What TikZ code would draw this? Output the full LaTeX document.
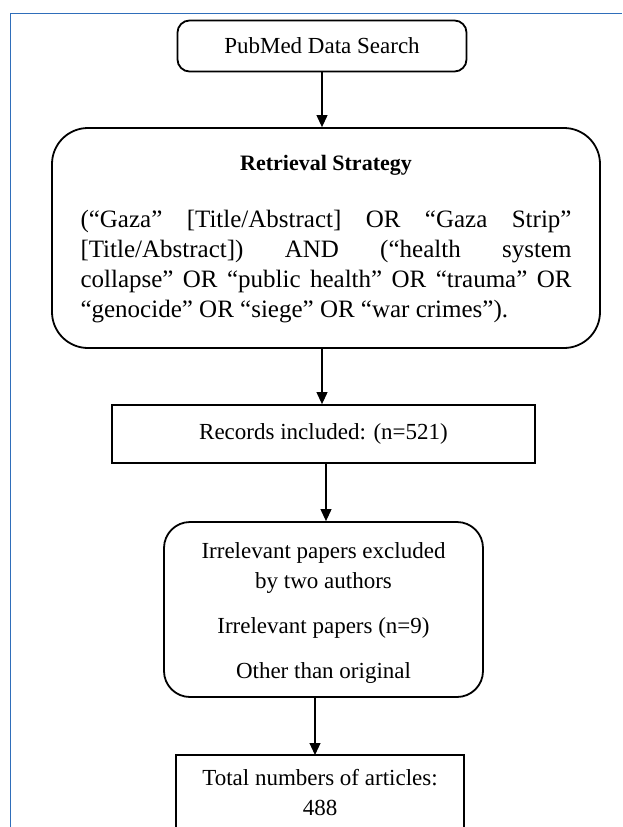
\documentclass[tikz,border=0pt]{standalone}
\usepackage{fontspec}
\setmainfont{Liberation Serif}
\usetikzlibrary{arrows.meta,calc}
\definecolor{framecol}{RGB}{47,110,186}
\begin{document}
\begin{tikzpicture}[x=1pt,y=-1pt,
  boxline/.style={draw=black,line width=1.8pt},
  rbox/.style={boxline,rounded corners=12pt},
  arr/.style={line width=1.1pt,-{Triangle[width=11pt,length=12pt]}},
  txt/.style={font=\fontsize{23}{30}\selectfont,inner sep=0pt,align=center},
]
\useasboundingbox (0,0) rectangle (622,827);
\draw[framecol,line width=1pt] (10.5,827) -- (10.5,13.5) -- (622,13.5);

\node[rbox,txt,minimum width=289pt,minimum height=51pt] (search) at (322,46) {PubMed Data Search};

\node[rbox,rounded corners=36pt,minimum width=548pt,minimum height=220pt] (strategy) at (326,238) {};
\node[font=\bfseries\fontsize{22}{26}\selectfont,inner sep=0pt] (title) at (326,165) {Retrieval Strategy};
\node[text width=491pt,align=justify,font=\fontsize{25}{30}\selectfont,inner sep=0pt,anchor=north] (query) at (326,210)
{(“Gaza” [Title/Abstract] OR “Gaza Strip”\linebreak{}
[Title/Abstract]) AND (“health system\linebreak{}
collapse” OR “public health” OR “trauma” OR\linebreak{}
“genocide” OR “siege” OR “war crimes”).};

\node[boxline,txt,minimum width=423pt,minimum height=58pt] (records) at (323.5,434) {Records included: (n=521)};

\node[rbox,rounded corners=26pt,minimum width=319pt,minimum height=175pt] (screen) at (323.5,609.5) {};
\node[txt] (ex1) at (323.5,568) {Irrelevant papers excluded\\by two authors};
\node[txt] (ex2) at (323.5,628) {Irrelevant papers (n=9)};
\node[txt] (ex3) at (323.5,673) {Other than original};

\coordinate (totaltop) at (315,755);
\draw[boxline] (176,827) |- (464,755) -- (464,827);
\node[txt] (total) at (320,793) {Total numbers of articles:\\488};

\draw[arr] (search.south) -- (search.south |- strategy.north);
\draw[arr] (strategy.south -| 322,0) -- (records.north -| 322,0);
\draw[arr] (records.south -| 326,0) -- (screen.north -| 326,0);
\draw[arr] (screen.south -| totaltop) -- (totaltop);
\end{tikzpicture}
\end{document}
